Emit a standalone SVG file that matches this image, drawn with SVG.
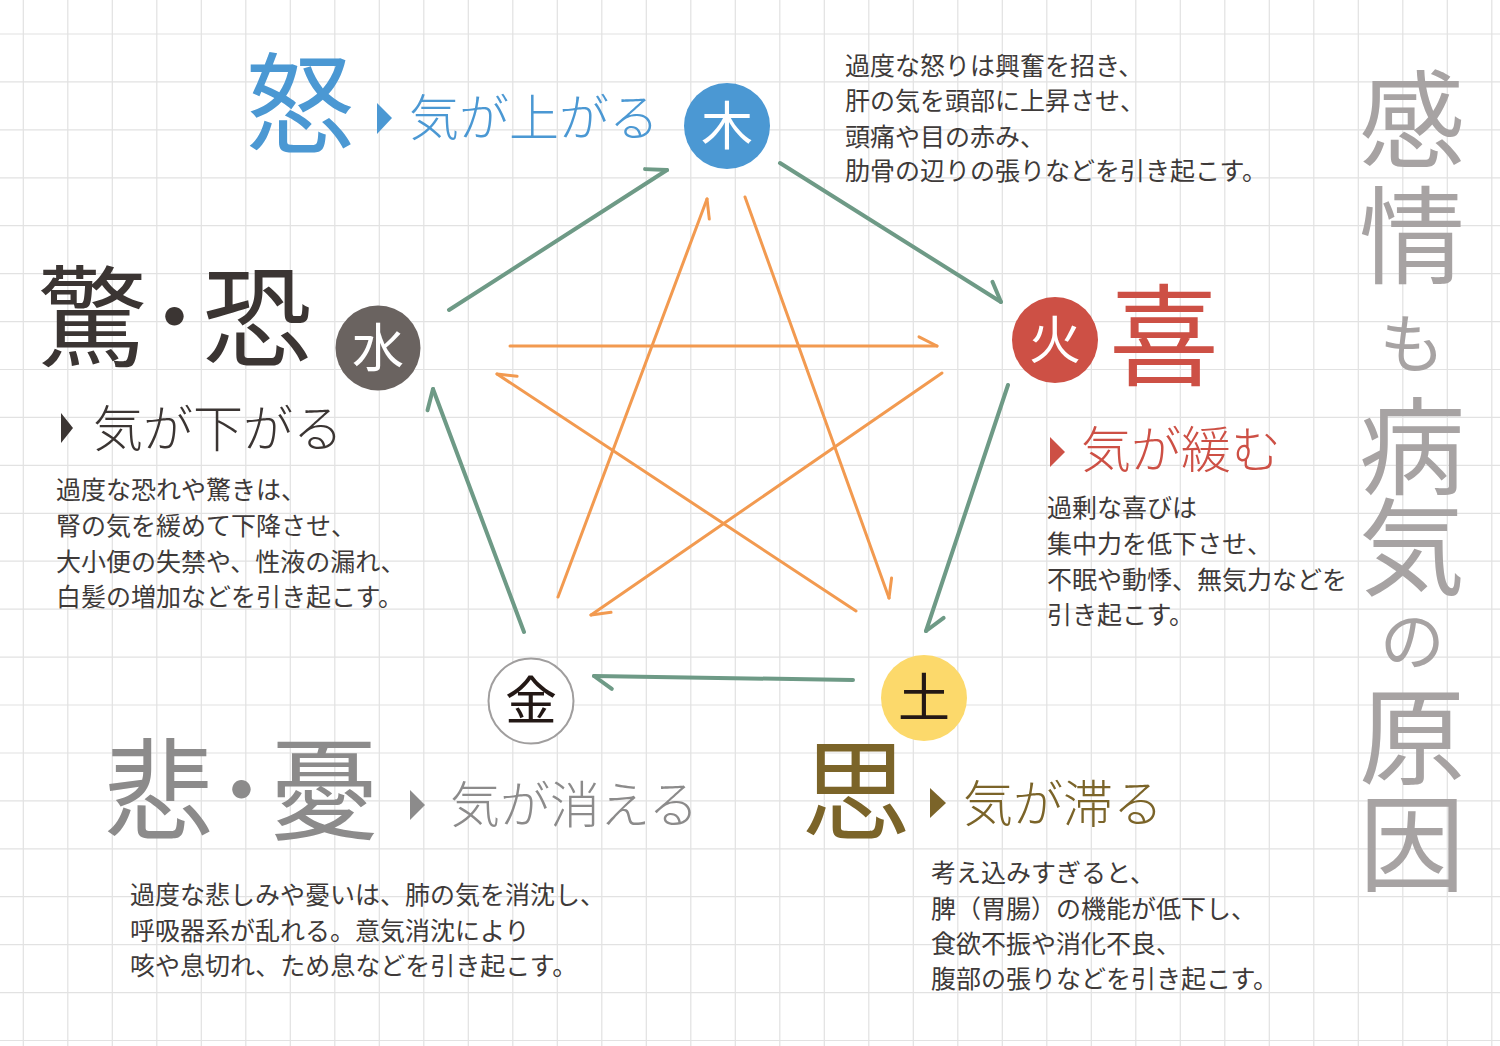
<svg xmlns="http://www.w3.org/2000/svg" width="1500" height="1046" viewBox="0 0 1500 1046">
<style>
text{font-family:"Noto Sans CJK JP","Noto Sans CJK SC",sans-serif;}
.body{font-size:25px;fill:#3e3a39;}
.big{font-size:110px;font-weight:400;}
.sub{font-size:50px;font-weight:300;}
.circ{font-size:52px;text-anchor:middle;}
.ttl{fill:#a7a3a3;font-weight:400;writing-mode:vertical-rl;}
.g{stroke:#6e9a86;stroke-width:4;fill:none;stroke-linecap:round;stroke-linejoin:round;}
.o{stroke:#f29a50;stroke-width:3;fill:none;stroke-linecap:round;stroke-linejoin:round;}
.grid{stroke:#e2e2e2;stroke-width:1.2;fill:none;}
</style>
<defs>
<marker id="gb" markerUnits="userSpaceOnUse" orient="auto" overflow="visible" markerWidth="1" markerHeight="1" refX="0" refY="0">
<path d="M0 0L-18 -12.6" stroke="#6e9a86" stroke-width="4" stroke-linecap="round" fill="none"/>
</marker>
<marker id="ob" markerUnits="userSpaceOnUse" orient="auto" overflow="visible" markerWidth="1" markerHeight="1" refX="0" refY="0">
<path d="M0 0L-18 -9.2" stroke="#f29a50" stroke-width="3" stroke-linecap="round" fill="none"/>
</marker>
<marker id="ob2" markerUnits="userSpaceOnUse" orient="auto" overflow="visible" markerWidth="1" markerHeight="1" refX="0" refY="0">
<path d="M0 0L-18 9.2" stroke="#f29a50" stroke-width="3" stroke-linecap="round" fill="none"/>
</marker>
</defs>
<rect width="1500" height="1046" fill="#ffffff"/>
<g id="grid">
<path class="grid" d="M23.3 0V1046M67.8 0V1046M112.3 0V1046M156.8 0V1046M201.3 0V1046M245.8 0V1046M290.3 0V1046M334.8 0V1046M379.3 0V1046M423.8 0V1046M468.3 0V1046M512.8 0V1046M557.3 0V1046M601.8 0V1046M646.3 0V1046M690.8 0V1046M735.3 0V1046M779.8 0V1046M824.3 0V1046M868.8 0V1046M913.3 0V1046M957.8 0V1046M1002.3 0V1046M1046.8 0V1046M1091.3 0V1046M1135.8 0V1046M1180.3 0V1046M1224.8 0V1046M1269.3 0V1046M1313.8 0V1046M1358.3 0V1046M1402.8 0V1046M1447.3 0V1046M1491.8 0V1046"/>
<path class="grid" d="M0 34H1500M0 81.9H1500M0 129.9H1500M0 177.8H1500M0 225.7H1500M0 273.7H1500M0 321.6H1500M0 369.5H1500M0 417.4H1500M0 465.4H1500M0 513.3H1500M0 561.2H1500M0 609.2H1500M0 657.1H1500M0 705H1500M0 753H1500M0 800.9H1500M0 848.8H1500M0 896.7H1500M0 944.7H1500M0 992.6H1500M0 1040.5H1500"/>
</g>
<g id="connectors">
<path class="g" d="M449 310L667 170" marker-end="url(#gb)"/>
<path class="g" d="M780 163L1001 302" marker-end="url(#gb)"/>
<path class="g" d="M1008 385L926 631" marker-end="url(#gb)"/>
<path class="g" d="M853 680L594 676" marker-end="url(#gb)"/>
<path class="g" d="M524 632L433 389" marker-end="url(#gb)"/>
<path class="o" d="M510 346L937 346" marker-end="url(#ob)"/>
<path class="o" d="M745 197L889 598" marker-end="url(#ob)"/>
<path class="o" d="M942 373L591 615" marker-end="url(#ob)"/>
<path class="o" d="M856 611L497 374" marker-end="url(#ob2)"/>
<path class="o" d="M558 597L707 199" marker-end="url(#ob2)"/>
</g>
<g id="node-wood">
<circle cx="727" cy="126" r="43" fill="#4b98d3"/>
<text class="circ" x="727" y="145" fill="#ffffff">木</text>
<text class="big" x="245" y="145" fill="#4b98d3">怒</text>
<polygon points="377,103 392,118 377,134" fill="#4b98d3"/>
<text class="sub" x="409" y="136" fill="#4b98d3">気が上がる</text>
<text class="body" x="845" y="75">過度な怒りは興奮を招き、</text>
<text class="body" x="845" y="110">肝の気を頭部に上昇させ、</text>
<text class="body" x="845" y="146">頭痛や目の赤み、</text>
<text class="body" x="845" y="180">肋骨の辺りの張りなどを引き起こす。</text>
</g>
<g id="node-fire">
<circle cx="1055" cy="340" r="43" fill="#cd5045"/>
<text class="circ" x="1055" y="359" fill="#ffffff">火</text>
<text class="big" x="1109" y="377" fill="#cd5045">喜</text>
<polygon points="1050,437 1065,452 1050,467" fill="#cd5045"/>
<text class="sub" x="1081" y="468" fill="#cd5045">気が緩む</text>
<text class="body" x="1047" y="517">過剰な喜びは</text>
<text class="body" x="1047" y="553">集中力を低下させ、</text>
<text class="body" x="1047" y="589">不眠や動悸、無気力などを</text>
<text class="body" x="1047" y="624">引き起こす。</text>
</g>
<g id="node-earth">
<circle cx="924" cy="698" r="43" fill="#fcd96b"/>
<text class="circ" x="924" y="717" fill="#231815">土</text>
<text class="big" x="801" y="832" fill="#7b6429">思</text>
<polygon points="930,788 946,803 930,818" fill="#7b6429"/>
<text class="sub" x="963" y="822" fill="#7b6429">気が滞る</text>
<text class="body" x="931" y="882">考え込みすぎると、</text>
<text class="body" x="931" y="918">脾（胃腸）の機能が低下し、</text>
<text class="body" x="931" y="953">食欲不振や消化不良、</text>
<text class="body" x="931" y="988">腹部の張りなどを引き起こす。</text>
</g>
<g id="node-metal">
<circle cx="531" cy="701" r="42.5" fill="#ffffff" stroke="#a09e9e" stroke-width="2"/>
<text class="circ" x="531" y="720" fill="#231815">金</text>
<text class="big" x="104" y="831" fill="#8c8b8b">悲･憂</text>
<polygon points="410,790 425,805 410,820" fill="#8c8b8b"/>
<text class="sub" x="450" y="823" fill="#8c8b8b">気が消える</text>
<text class="body" x="130" y="904">過度な悲しみや憂いは、肺の気を消沈し、</text>
<text class="body" x="130" y="940">呼吸器系が乱れる。意気消沈により</text>
<text class="body" x="130" y="975">咳や息切れ、ため息などを引き起こす。</text>
</g>
<g id="node-water">
<circle cx="378" cy="348" r="42.5" fill="#6a6360"/>
<text class="circ" x="378" y="367" fill="#ffffff">水</text>
<text class="big" x="37" y="358" fill="#3b3533">驚･恐</text>
<polygon points="61,413 73,428 61,443" fill="#3b3533"/>
<text class="sub" x="93" y="447" fill="#3b3533">気が下がる</text>
<text class="body" x="56" y="499">過度な恐れや驚きは、</text>
<text class="body" x="56" y="535">腎の気を緩めて下降させ、</text>
<text class="body" x="56" y="571">大小便の失禁や、性液の漏れ、</text>
<text class="body" x="56" y="606">白髪の増加などを引き起こす。</text>
</g>
<g id="title">
<text class="ttl" x="1412" y="66" font-size="106">感<tspan dy="10">情</tspan><tspan dy="22" font-size="66">も</tspan><tspan dy="17">病</tspan><tspan dy="-5">気</tspan><tspan dy="8" font-size="66">の</tspan><tspan dy="9">原</tspan><tspan dy="1">因</tspan></text>
</g>
</svg>
